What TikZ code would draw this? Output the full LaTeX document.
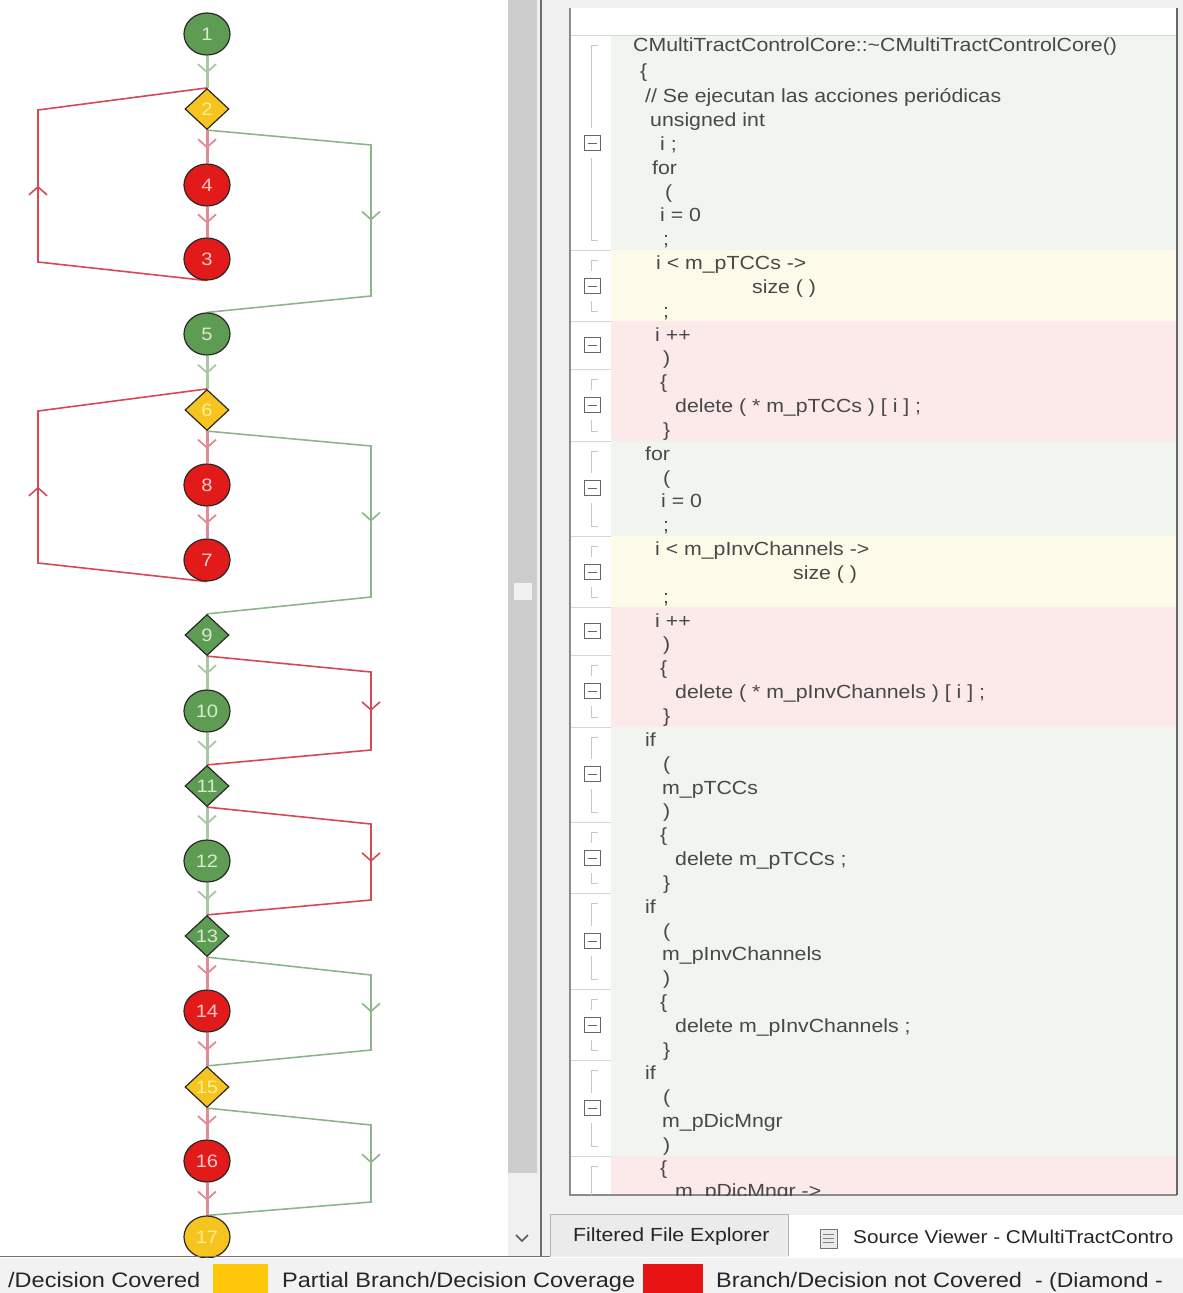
\documentclass[tikz,border=0pt]{standalone}
\usepackage{fontspec}
\setmainfont{Liberation Sans}[FakeStretch=1.12]
\usetikzlibrary{shapes.geometric,arrows.meta,decorations.markings}
\pgfdeclarelayer{bg}\pgfdeclarelayer{edges}\pgfsetlayers{bg,edges,main}
\definecolor{ngreen}{RGB}{94,156,84}
\definecolor{nred}{RGB}{226,26,26}
\definecolor{nyellow}{RGB}{246,196,30}
\definecolor{nborder}{RGB}{40,40,40}
\definecolor{ntgreen}{RGB}{215,235,205}
\definecolor{ntred}{RGB}{250,200,200}
\definecolor{ntyellow}{RGB}{255,238,150}
\definecolor{egreenT}{RGB}{168,200,162}
\definecolor{eredT}{RGB}{222,140,150}
\definecolor{egreen}{RGB}{140,182,138}
\definecolor{ered}{RGB}{214,72,84}
\definecolor{rowgreen}{RGB}{240,245,240}
\definecolor{rowyellow}{RGB}{253,250,234}
\definecolor{rowred}{RGB}{252,234,234}
\definecolor{sepcol}{RGB}{214,214,214}
\definecolor{codetxt}{RGB}{72,72,72}
\definecolor{panebg}{RGB}{240,240,240}
\definecolor{sbar}{RGB}{204,204,204}
\definecolor{legbg}{RGB}{242,242,242}
\definecolor{legyellow}{RGB}{255,199,10}
\definecolor{legred}{RGB}{232,20,20}
\definecolor{darkline}{RGB}{110,110,110}
\newcommand\mycodeline[4]{\node[codetext] (#1) at (#2,{#3+7}) {#4};}
\newcommand\mycoderow[3]{\fill[#3] (611,#1) rectangle (1177,#2); \draw[sepline] (570,#2) -- (1177,#2);}
\newcommand\myfoldbox[1]{\draw[foldline,fill=white] (584,{#1-7.5}) rectangle (600,{#1+7.5}); \draw[foldline] (587.5,#1) -- (596.5,#1);}
\newcommand\myfoldbracket[3]{\draw[brk] (598,{#1+10}) -- (591,{#1+10}) -- (591,{#3-15}); \draw[brk] (591,{#3+15}) -- (591,{#2-10}) -- (598,{#2-10});}
\begin{document}
\begin{tikzpicture}[x=1pt,y=-1pt,
  cnode/.style={ellipse, draw=nborder, line width=1.2pt, minimum width=46pt, minimum height=42pt, inner sep=0pt, font=\fontsize{18}{18}\selectfont},
  dnode/.style={diamond, draw=nborder, line width=1.2pt, minimum width=44pt, minimum height=41pt, inner sep=0pt, font=\fontsize{18}{18}\selectfont},
  gfill/.style={fill=ngreen, text=ntgreen},
  rfill/.style={fill=nred, text=ntred},
  yfill/.style={fill=nyellow, text=ntyellow},
  vg/.style={draw=egreenT, line width=3pt, postaction={decorate}, decoration={markings, mark=at position 0.55 with {\arrow{Straight Barb[length=8pt,width=18pt,line width=1.8pt,color=egreenT]}}}},
  vr/.style={draw=eredT, line width=3pt, postaction={decorate}, decoration={markings, mark=at position 0.55 with {\arrow{Straight Barb[length=8pt,width=18pt,line width=1.8pt,color=eredT]}}}},
  lg/.style={draw=egreen, line width=1.6pt, postaction={decorate}, decoration={markings, mark=at position 0.5 with {\arrow{Straight Barb[length=8pt,width=18pt,line width=1.6pt,color=egreen]}}}},
  lr/.style={draw=ered, line width=1.6pt, postaction={decorate}, decoration={markings, mark=at position 0.5 with {\arrow{Straight Barb[length=8pt,width=18pt,line width=1.6pt,color=ered]}}}},
  codetext/.style={anchor=base west, inner sep=0pt, text=codetxt, font=\fontsize{19}{19}\selectfont},
  legtext/.style={anchor=base west, inner sep=0pt, text=black!85, font=\fontsize{21}{21}\selectfont},
  tabtext/.style={anchor=base west, inner sep=0pt, text=black!85, font=\fontsize{19}{19}\selectfont},
  sepline/.style={draw=sepcol, line width=1pt},
  foldline/.style={draw=black!60, line width=1pt},
  brk/.style={draw=black!22, line width=1pt}]
\useasboundingbox (0,0) rectangle (1183,1293);

\begin{pgfonlayer}{bg}
  % panes
  \fill[white] (0,0) rectangle (508,1256);
  \fill[panebg] (508,0) rectangle (1183,1257);
  \fill[sbar] (508,0) rectangle (537,1173);
  \fill[white!94!black] (514,583) rectangle (532,600);
  \draw[black!65, line width=1.5pt] (516,1235) -- (522,1241) -- (528,1235);
  \draw[darkline, line width=1.5pt] (541,0) -- (541,1256);
  % code table
  \fill[white] (570,8) rectangle (1177,1195);
  \mycoderow{35}{250}{rowgreen}
  \mycoderow{250}{321}{rowyellow}
  \mycoderow{321}{369}{rowred}
  \mycoderow{369}{441}{rowred}
  \mycoderow{441}{536}{rowgreen}
  \mycoderow{536}{607}{rowyellow}
  \mycoderow{607}{655}{rowred}
  \mycoderow{655}{727}{rowred}
  \mycoderow{727}{822}{rowgreen}
  \mycoderow{822}{893}{rowgreen}
  \mycoderow{893}{989}{rowgreen}
  \mycoderow{989}{1060}{rowgreen}
  \mycoderow{1060}{1156}{rowgreen}
  \fill[rowred] (611,1156) rectangle (1177,1195);
  \draw[sepline] (570,35) -- (1177,35);
  \draw[black!45, line width=1.2pt] (570,8) -- (570,1195) -- (1177,1195);
  \draw[black!60, line width=2pt] (1177,8) -- (1177,1195);
  % fold markers
  \myfoldbracket{35}{250}{143}\myfoldbox{143}
  \myfoldbracket{250}{321}{286}\myfoldbox{286}
  \myfoldbox{345}
  \myfoldbracket{369}{441}{405}\myfoldbox{405}
  \myfoldbracket{441}{536}{488}\myfoldbox{488}
  \myfoldbracket{536}{607}{572}\myfoldbox{572}
  \myfoldbox{631}
  \myfoldbracket{655}{727}{691}\myfoldbox{691}
  \myfoldbracket{727}{822}{774}\myfoldbox{774}
  \myfoldbracket{822}{893}{858}\myfoldbox{858}
  \myfoldbracket{893}{989}{941}\myfoldbox{941}
  \myfoldbracket{989}{1060}{1025}\myfoldbox{1025}
  \myfoldbracket{1060}{1156}{1108}\myfoldbox{1108}
  \draw[brk] (598,1166) -- (591,1166) -- (591,1195);
  % tabs
  \fill[black!8] (550,1214) rectangle (788,1256);
  \draw[black!30, line width=1pt] (550,1256) -- (550,1214) -- (788,1214) -- (788,1256);
  \fill[white] (789,1215) rectangle (1183,1258);
\end{pgfonlayer}

% graph nodes
\node[cnode,gfill] (n1) at (207,34) {1};
\node[dnode,yfill] (n2) at (207,109) {2};
\node[cnode,rfill] (n4) at (207,185) {4};
\node[cnode,rfill] (n3) at (207,259) {3};
\node[cnode,gfill] (n5) at (207,334) {5};
\node[dnode,yfill] (n6) at (207,410) {6};
\node[cnode,rfill] (n8) at (207,485) {8};
\node[cnode,rfill] (n7) at (207,560) {7};
\node[dnode,gfill] (n9) at (207,635) {9};
\node[cnode,gfill] (n10) at (207,711) {10};
\node[dnode,gfill] (n11) at (207,786) {11};
\node[cnode,gfill] (n12) at (207,861) {12};
\node[dnode,gfill] (n13) at (207,936) {13};
\node[cnode,rfill] (n14) at (207,1011) {14};
\node[dnode,yfill] (n15) at (207,1087) {15};
\node[cnode,rfill] (n16) at (207,1161) {16};
\node[cnode,yfill] (n17) at (207,1237) {17};

\begin{pgfonlayer}{edges}
  \draw[vg] (n1) -- (n2);
  \draw[vr] (n2) -- (n4);
  \draw[vr] (n4) -- (n3);
  \draw[lr] (n3.south) -- (38,262) -- (38,110) -- (n2.north);
  \draw[lg] (n2.south) -- (371,145) -- (371,296) -- (n5.north);
  \draw[vg] (n5) -- (n6);
  \draw[vr] (n6) -- (n8);
  \draw[vr] (n8) -- (n7);
  \draw[lr] (n7.south) -- (38,563) -- (38,411) -- (n6.north);
  \draw[lg] (n6.south) -- (371,446) -- (371,597) -- (n9.north);
  \draw[vg] (n9) -- (n10);
  \draw[vg] (n10) -- (n11);
  \draw[lr] (n9.south) -- (371,672) -- (371,750) -- (n11.north);
  \draw[vg] (n11) -- (n12);
  \draw[vg] (n12) -- (n13);
  \draw[lr] (n11.south) -- (371,824) -- (371,900) -- (n13.north);
  \draw[vr] (n13) -- (n14);
  \draw[vr] (n14) -- (n15);
  \draw[lg] (n13.south) -- (371,975) -- (371,1050) -- (n15.north);
  \draw[vr] (n15) -- (n16);
  \draw[vr] (n16) -- (n17);
  \draw[lg] (n15.south) -- (371,1125) -- (371,1202) -- (n17.north);
\end{pgfonlayer}

% code text
\begin{scope}
\clip (570,35) rectangle (1177,1195);
\mycodeline{c1}{633}{44}{CMultiTractControlCore::\textasciitilde CMultiTractControlCore()}
\mycodeline{c2}{640}{70}{\{}
\mycodeline{c3}{645}{95}{// Se ejecutan las acciones periódicas}
\mycodeline{c4}{650}{119}{unsigned int}
\mycodeline{c5}{660}{143}{i ;}
\mycodeline{c6}{652}{167}{for}
\mycodeline{c7}{665}{191}{(}
\mycodeline{c8}{660}{214}{i = 0}
\mycodeline{c9}{663}{238}{;}
\mycodeline{c10}{656}{262}{i < m\_pTCCs ->}
\mycodeline{c11}{752}{286}{size ( )}
\mycodeline{c12}{663}{310}{;}
\mycodeline{c13}{655}{334}{i ++}
\mycodeline{c14}{663}{357}{)}
\mycodeline{c15}{660}{381}{\{}
\mycodeline{c16}{675}{405}{delete ( * m\_pTCCs ) [ i ] ;}
\mycodeline{c17}{663}{429}{\}}
\mycodeline{c18}{645}{453}{for}
\mycodeline{c19}{663}{477}{(}
\mycodeline{c20}{661}{500}{i = 0}
\mycodeline{c21}{663}{524}{;}
\mycodeline{c22}{655}{548}{i < m\_pInvChannels ->}
\mycodeline{c23}{793}{572}{size ( )}
\mycodeline{c24}{663}{596}{;}
\mycodeline{c25}{655}{620}{i ++}
\mycodeline{c26}{663}{643}{)}
\mycodeline{c27}{660}{667}{\{}
\mycodeline{c28}{675}{691}{delete ( * m\_pInvChannels ) [ i ] ;}
\mycodeline{c29}{663}{715}{\}}
\mycodeline{c30}{645}{739}{if}
\mycodeline{c31}{663}{763}{(}
\mycodeline{c32}{662}{787}{m\_pTCCs}
\mycodeline{c33}{663}{810}{)}
\mycodeline{c34}{660}{834}{\{}
\mycodeline{c35}{675}{858}{delete m\_pTCCs ;}
\mycodeline{c36}{663}{882}{\}}
\mycodeline{c37}{645}{906}{if}
\mycodeline{c38}{663}{930}{(}
\mycodeline{c39}{662}{953}{m\_pInvChannels}
\mycodeline{c40}{663}{977}{)}
\mycodeline{c41}{660}{1001}{\{}
\mycodeline{c42}{675}{1025}{delete m\_pInvChannels ;}
\mycodeline{c43}{663}{1049}{\}}
\mycodeline{c44}{645}{1072}{if}
\mycodeline{c45}{663}{1096}{(}
\mycodeline{c46}{662}{1120}{m\_pDicMngr}
\mycodeline{c47}{663}{1144}{)}
\mycodeline{c48}{660}{1167}{\{}
\mycodeline{c49}{675}{1190}{m\_pDicMngr ->}
\end{scope}

% tabs text
\node[tabtext] (tab1) at (573,1241) {Filtered File Explorer};
\draw[black!55, fill=black!8, line width=1pt] (820,1229) rectangle (837,1248);
\draw[black!50, line width=1pt] (823,1234) -- (834,1234) (823,1238) -- (834,1238) (823,1242) -- (834,1242);
\node[tabtext, font=\fontsize{18.5}{18.5}\selectfont] (tab2) at (853,1243) {Source Viewer - CMultiTractContro};

% legend bar
\fill[legbg] (0,1257.5) rectangle (1183,1293);
\draw[black!55, line width=1pt] (0,1256.5) -- (550,1256.5);
\begin{scope}
\clip (0,1257.5) rectangle (1183,1293);
\node[legtext] (lg1) at (8,1287) {/Decision Covered};
\fill[legyellow] (213,1264) rectangle (268,1293);
\node[legtext] (lg2) at (282,1287) {Partial Branch/Decision Coverage};
\fill[legred] (643,1264) rectangle (703,1293);
\node[legtext] (lg3) at (716,1287) {Branch/Decision not Covered};
\node[legtext, font=\fontsize{20.5}{20.5}\selectfont] (lg4) at (1035,1287) {- (Diamond -};
\end{scope}
\end{tikzpicture}
\end{document}
